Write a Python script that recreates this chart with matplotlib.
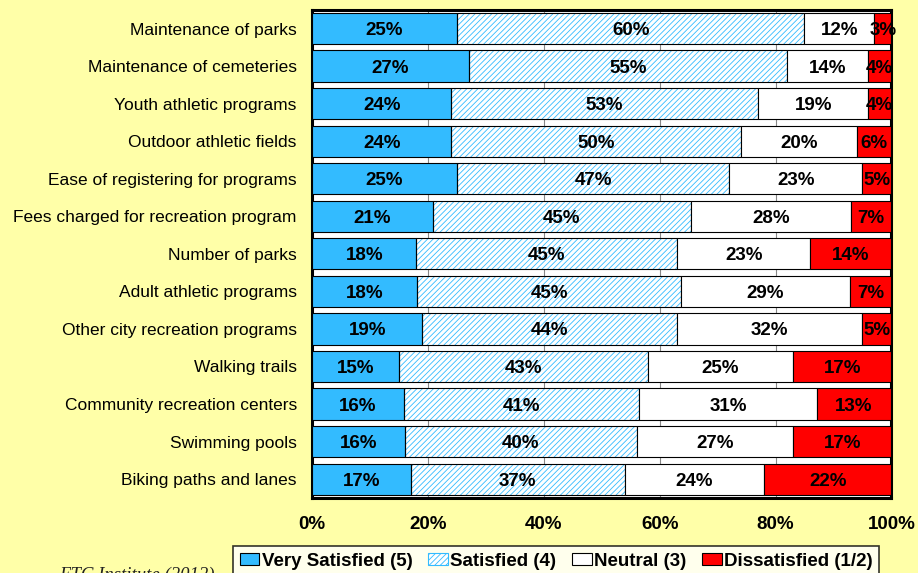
import numpy as np
import matplotlib.pyplot as plt
from matplotlib.patches import Patch

categories = ["Maintenance of parks", "Maintenance of cemeteries", "Youth athletic programs",
              "Outdoor athletic fields", "Ease of registering for programs",
              "Fees charged for recreation program", "Number of parks", "Adult athletic programs",
              "Other city recreation programs", "Walking trails", "Community recreation centers",
              "Swimming pools", "Biking paths and lanes"]
very_satisfied = [25, 27, 24, 24, 25, 21, 18, 18, 19, 15, 16, 16, 17]
satisfied = [60, 55, 53, 50, 47, 45, 45, 45, 44, 43, 41, 40, 37]
neutral = [12, 14, 19, 20, 23, 28, 23, 29, 32, 25, 31, 27, 24]
dissatisfied = [3, 4, 4, 6, 5, 7, 14, 7, 5, 17, 13, 17, 22]
series_names = ["Very Satisfied (5)", "Satisfied (4)", "Neutral (3)", "Dissatisfied (1/2)"]

plt.rcParams['font.family'] = ['Liberation Sans', 'DejaVu Sans']
plt.rcParams['hatch.linewidth'] = 0.6
bg = '#FFFFA8'
blue = '#33BBFF'
red = '#FF0000'

data = np.array([very_satisfied, satisfied, neutral, dissatisfied], dtype=float)
shares = data / data.sum(axis=0) * 100  # stacked to 100%

fig = plt.figure(figsize=(9.18, 5.73), dpi=100, facecolor=bg)
ax = fig.add_axes([0.340, 0.131, 0.631, 0.852])
ax.set_facecolor('white')

y = np.arange(len(categories))[::-1]
h = 0.83
left = np.zeros(len(categories))
for i, vals in enumerate(shares):
    if i == 1:
        ax.barh(y, vals, left=left, height=h, color='white', edgecolor=blue,
                hatch='//////', linewidth=0, zorder=2)
        ax.barh(y, vals, left=left, height=h, fill=False, edgecolor='black',
                linewidth=0.8, zorder=3)
    else:
        fc = [blue, None, 'white', red][i]
        ax.barh(y, vals, left=left, height=h, color=fc, edgecolor='black',
                linewidth=0.8, zorder=3)
    for yy, l, v, lab in zip(y, left, vals, data[i]):
        ax.text(l + v / 2, yy, f"{int(lab)}%", ha='center', va='center_baseline',
                fontsize=13.5, fontweight='bold', color='black', zorder=5)
    left += vals

ax.set_xlim(0, 100)
ax.set_ylim(-0.5, len(categories) - 0.5)
ax.set_xticks([0, 20, 40, 60, 80, 100])
ax.set_xticklabels([f"{t}%" for t in range(0, 101, 20)], fontsize=13.5, fontweight='bold')
ax.set_yticks(y)
ax.set_yticklabels(categories, fontsize=12.5)
ax.tick_params(axis='y', length=0, pad=11)
ax.tick_params(axis='x', length=0, pad=13)
ax.grid(axis='x', color='#888888', linewidth=0.8, zorder=0)
ax.set_axisbelow(True)
for s in ax.spines.values():
    s.set_linewidth(2.2)
    s.set_color('black')

handles = [Patch(facecolor=blue, edgecolor='black', linewidth=0.8),
           Patch(facecolor='white', edgecolor=blue, hatch='//////', linewidth=0.8),
           Patch(facecolor='white', edgecolor='black', linewidth=0.8),
           Patch(facecolor=red, edgecolor='black', linewidth=0.8)]
leg = fig.legend(handles, series_names, loc='upper left', bbox_to_anchor=(0.254, 0.047),
                 ncol=4, frameon=True, fancybox=False,
                 prop={'weight': 'bold', 'size': 13.5},
                 handlelength=1.05, handleheight=0.6, handletextpad=0.12, columnspacing=0.85,
                 borderpad=0.35, edgecolor='black', borderaxespad=0)
leg.get_frame().set_linewidth(1.2)

fig.text(0.065, 0.0105, "ETC Institute (2012)", fontsize=13.5, style='italic',
         family='Liberation Serif', color='#222222', va='top')

fig.savefig('out.png', dpi=100, facecolor=bg)
